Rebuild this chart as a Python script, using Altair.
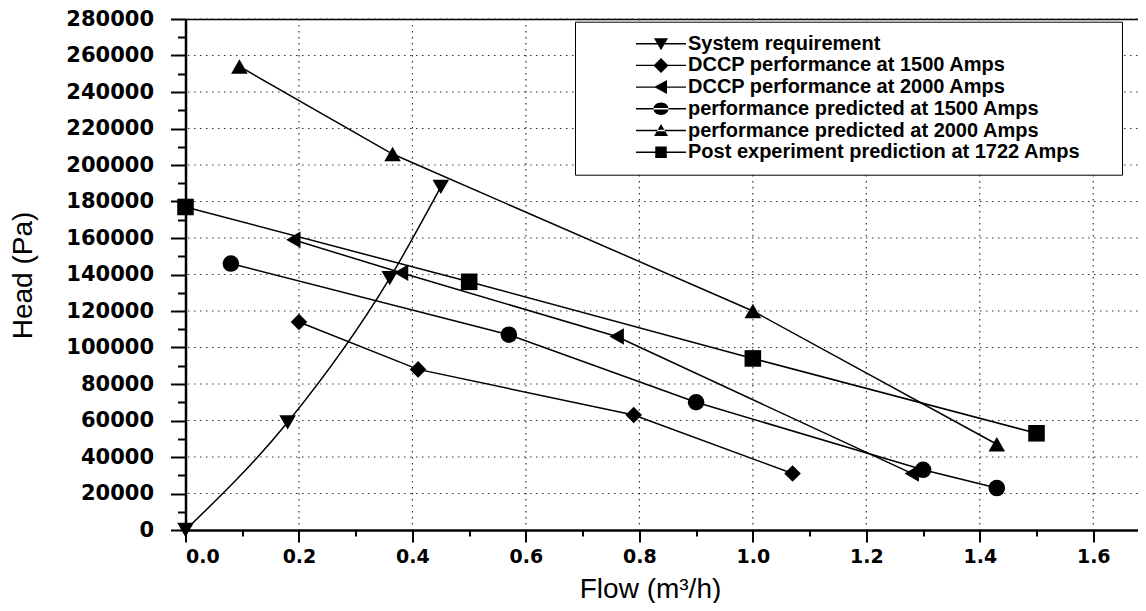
import altair as alt
import pandas as pd

series = [
    "System requirement",
    "DCCP performance at 1500 Amps",
    "DCCP performance at 2000 Amps",
    "performance predicted at 1500 Amps",
    "performance predicted at 2000 Amps",
    "Post experiment prediction at 1722 Amps",
]
shapes = ["triangle-down", "diamond", "triangle-left", "circle", "triangle-up", "square"]

sys_x = [0.0, 0.18, 0.36, 0.45]
sys_y = [0, 59000, 138000, 188000]
d1500_x = [0.20, 0.41, 0.79, 1.07]
d1500_y = [114000, 88000, 63000, 31000]
d2000_x = [0.19, 0.38, 0.76, 1.28]
d2000_y = [159000, 141000, 106000, 31000]
p1500_x = [0.08, 0.57, 0.90, 1.30, 1.43]
p1500_y = [146000, 107000, 70000, 33000, 23000]
p2000_x = [0.095, 0.365, 1.00, 1.43]
p2000_y = [254000, 206000, 120000, 47000]
post_x = [0.0, 0.5, 1.0, 1.5]
post_y = [177000, 136000, 94000, 53000]

xs = [sys_x, d1500_x, d2000_x, p1500_x, p2000_x, post_x]
ys = [sys_y, d1500_y, d2000_y, p1500_y, p2000_y, post_y]
rows = []
for name, sx, sy in zip(series, xs, ys):
    for a, b in zip(sx, sy):
        rows.append({"series": name, "flow": a, "head": b})
df = pd.DataFrame(rows)

# legend glyphs: thin bar (line) + marker, unit = sqrt(size)/2
BAR = "M-5,-0.14H5V0.14H-5Z"
legend_paths = [
    BAR + "M-1.4,-1.1H1.4L0,1.3Z",
    BAR + "M0,-1.5L1.5,0L0,1.5L-1.5,0Z",
    BAR + "M-1.4,0L1.2,-1.4L1.2,1.4Z",
    BAR + "M-1.5,0A1.5,1.25,0,1,0,1.5,0A1.5,1.25,0,1,0,-1.5,0Z",
    BAR + "M-1.4,1.1H1.4L0,-1.3Z",
    BAR + "M-1.15,-1.15H1.15V1.15H-1.15Z",
]

X_MAX = 1.678
x_major = [round(i * 0.2, 1) for i in range(0, 9)]
x_minor = [round(0.1 + i * 0.2, 1) for i in range(0, 8)]
y_major = list(range(0, 280001, 20000))
y_minor = list(range(10000, 280000, 20000))

x_scale = alt.Scale(domain=[0, X_MAX], nice=False, zero=False)
y_scale = alt.Scale(domain=[0, 280000], nice=False)

grid_dash = [1.5, 4.5]

x_axis = alt.Axis(
    orient="bottom",
    values=x_major,
    format=".1f",
    labelOverlap=False,
    labelFont="DejaVu Sans",
    labelFontWeight="bold",
    labelFontSize=19,
    labelColor="black",
    labelPadding=5,
    tickColor="black",
    tickWidth=2,
    tickSize=12,
    domainColor="black",
    domainWidth=2.5,
    grid=False,
    title="Flow (m³/h)",
    titleFont="Liberation Sans",
    titleFontSize=28,
    titleFontWeight="normal",
    titleColor="black",
    titleX=464.5,
    titleY=67,
    titleBaseline="alphabetic",
)

x_minor_axis = alt.Axis(
    orient="bottom", values=x_minor, labels=False, domain=False, grid=False,
    title=None, tickColor="black", tickWidth=2, tickSize=6,
)

y_axis = alt.Axis(
    orient="left",
    values=y_major,
    format="d",
    labelOverlap=False,
    labelFont="DejaVu Sans",
    labelFontWeight="bold",
    labelFontSize=21,
    labelColor="black",
    labelPadding=17,
    tickColor="black",
    tickWidth=2,
    tickSize=15,
    domainColor="black",
    domainWidth=2.5,
    grid=False,
    title="Head (Pa)",
    titleFont="Liberation Sans",
    titleFontSize=28,
    titleFontWeight="normal",
    titleColor="black",
    titleX=-148,
    titleY=256,
)

y_minor_axis = alt.Axis(
    orient="left", values=y_minor, labels=False, domain=False, grid=False,
    title=None, tickColor="black", tickWidth=2, tickSize=8,
)

top_axis = alt.Axis(
    orient="top", labels=False, ticks=False, grid=False, title=None,
    domainColor="black", domainWidth=1.5,
)

# dotted grid lines at the major tick values
vgrid = alt.Chart(pd.DataFrame({"v": x_major[1:]})).mark_rule(
    color="#333333", strokeWidth=1.2, strokeDash=grid_dash
).encode(x=alt.X("v:Q", scale=x_scale, axis=None))
hgrid = alt.Chart(pd.DataFrame({"v": y_major[1:]})).mark_rule(
    color="#333333", strokeWidth=1.2, strokeDash=grid_dash
).encode(y=alt.Y("v:Q", scale=y_scale, axis=None))

base = alt.Chart(df)

lines = base.transform_filter(
    alt.datum.series != series[0]
).mark_line(color="black", strokeWidth=1.5).encode(
    x=alt.X("flow:Q", scale=x_scale, axis=x_axis),
    y=alt.Y("head:Q", scale=y_scale, axis=y_axis),
    detail="series:N",
)

curve = base.transform_filter(
    alt.datum.series == series[0]
).mark_line(color="black", strokeWidth=1.5, interpolate="monotone").encode(
    x=alt.X("flow:Q", scale=x_scale, axis=top_axis),
    y=alt.Y("head:Q", scale=y_scale, axis=None),
)

points = base.mark_point(filled=True, color="black", opacity=1, size=275, strokeWidth=0).encode(
    x=alt.X("flow:Q", scale=x_scale, axis=x_minor_axis),
    y=alt.Y("head:Q", scale=y_scale, axis=y_minor_axis),
    shape=alt.Shape("series:N", scale=alt.Scale(domain=series, range=shapes), legend=None),
)

legend = alt.Legend(
    title="\u00a0",
    titleOrient="right",
    titlePadding=30,
    orient="none",
    legendX=389.5,
    legendY=2.7,
    padding=12,
    fillColor="white",
    strokeColor="black",
    labelFont="Liberation Sans",
    labelFontSize=20,
    labelFontWeight="bold",
    labelColor="black",
    labelLimit=600,
    symbolSize=100,
    symbolOffset=64,
    labelOffset=17,
    rowPadding=1.7,
    symbolFillColor="black",
    symbolStrokeColor="black",
    symbolStrokeWidth=0,
    symbolOpacity=1,
)

# legend-only layer (no rows drawn): its shape scale carries line+marker glyphs
legend_layer = base.transform_filter("false").mark_point(
    filled=True, color="black", opacity=1
).encode(
    x=alt.X("flow:Q", scale=x_scale, axis=None),
    y=alt.Y("head:Q", scale=y_scale, axis=None),
    shape=alt.Shape("series:N", scale=alt.Scale(domain=series, range=legend_paths), legend=legend),
)

chart = alt.layer(vgrid, hgrid, lines, curve, points, legend_layer).resolve_scale(
    shape="independent"
).resolve_axis(
    x="independent", y="independent"
).properties(
    width=952,
    height=511,
    autosize=alt.AutoSizeParams(type="none"),
    padding={"left": 177.5, "top": 11, "right": 0, "bottom": 73},
    background="white",
).configure_view(stroke=None)

chart.save("out.html", embed_options={"renderer": "svg", "actions": False})
